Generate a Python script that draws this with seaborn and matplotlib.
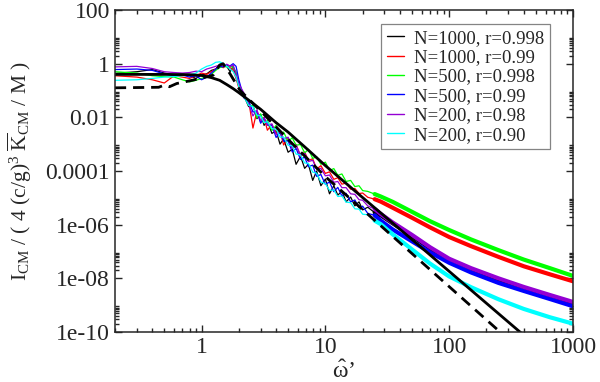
import numpy as np
import pandas as pd
import seaborn as sns
import matplotlib.pyplot as plt
from matplotlib.ticker import FixedLocator, FixedFormatter, NullFormatter

# frequency grid shared by the six simulated spectra
omega = [0.2, 0.3, 0.4, 0.5, 0.6, 0.7, 0.8, 0.9, 1.0, 1.1, 1.2, 1.3, 1.4, 1.5, 1.6, 1.7, 1.8, 1.9, 2.0,
         2.2, 2.4, 2.6, 2.8, 3.0, 3.2, 3.4, 3.7, 4.0, 4.3, 4.6, 5.0, 5.4, 5.8, 6.3, 6.8, 7.3, 7.9, 8.5, 9.2,
         10, 10.8, 11.7, 12.6, 13.6, 14.7, 16, 17.3, 18.7, 20, 22, 25, 28,
         35, 50, 70, 100, 150, 250, 400, 650, 1000]

# log10 of the spectra
black_log = [-0.36, -0.3, -0.22, -0.35, -0.42, -0.38, -0.45, -0.55, -0.42, -0.38, -0.25, -0.2, -0.05, 0.0, -0.1, -0.3, -0.1, -0.5, -0.85,
             -1.2, -1.6, -1.55, -2.05, -1.89, -2.3, -2.13, -2.6, -2.5, -3.0, -2.81, -3.3, -3.19, -3.75, -3.45, -3.9, -3.75, -4.35, -4.0, -4.55,
             -4.3, -4.85, -4.55, -4.9, -4.75, -5.15, -4.97, -5.3, -5.15, -5.45, -5.35, -5.55, -5.65,
             -5.95, -6.42, -6.88, -7.32, -7.67, -8.06, -8.38, -8.66, -8.92]
red_log = [-0.45, -0.5, -0.6, -0.72, -0.45, -0.5, -0.55, -0.45, -0.35, -0.4, -0.3, -0.2, -0.1, -0.15, -0.05, -0.15, -0.25, -0.55, -0.9,
           -1.25, -1.37, -2.4, -1.77, -2.17, -2.0, -2.48, -2.27, -2.6, -2.49, -3.03, -2.77, -3.15, -3.01, -3.46, -3.29, -3.61, -3.54, -3.93, -3.8,
           -4.09, -4.03, -4.31, -4.25, -4.49, -4.45, -4.68, -4.65, -4.84, -4.82, -4.98, -5.05, -5.14,
           -5.37, -5.74, -6.1, -6.46, -6.8, -7.2, -7.55, -7.85, -8.11]
green_log = [-0.3, -0.35, -0.45, -0.48, -0.5, -0.6, -0.68, -0.62, -0.55, -0.5, -0.4, -0.25, -0.15, -0.1, -0.12, -0.08, -0.15, -0.3, -0.8,
             -1.15, -1.55, -1.57, -2.02, -1.87, -2.2, -2.13, -2.49, -2.3, -2.61, -2.55, -2.9, -2.76, -3.04, -3.01, -3.33, -3.19, -3.53, -3.47, -3.75,
             -3.67, -3.98, -3.91, -4.16, -4.11, -4.39, -4.35, -4.58, -4.55, -4.73, -4.76, -4.86, -4.95,
             -5.15, -5.52, -5.87, -6.2, -6.55, -6.95, -7.3, -7.62, -7.91]
blue_log = [-0.22, -0.2, -0.25, -0.38, -0.45, -0.42, -0.5, -0.45, -0.6, -0.5, -0.35, -0.2, -0.1, -0.12, -0.05, -0.08, 0.0, -0.1, -0.6,
            -1.28, -1.39, -1.8, -1.78, -2.22, -2.02, -2.28, -2.29, -2.75, -2.56, -2.89, -2.87, -3.29, -3.16, -3.57, -3.48, -3.84, -3.78, -4.2, -4.13,
            -4.5, -4.41, -4.77, -4.61, -4.93, -4.83, -5.15, -5.08, -5.36, -5.31, -5.58, -5.65, -5.85,
            -6.18, -6.62, -7.03, -7.42, -7.78, -8.17, -8.47, -8.77, -9.04]
purple_log = [-0.12, -0.1, -0.18, -0.3, -0.33, -0.35, -0.33, -0.28, -0.3, -0.2, -0.15, -0.1, -0.05, -0.08, -0.02, -0.1, -0.05, -0.4, -0.75,
              -1.1, -1.5, -1.95, -1.72, -2.12, -2.03, -2.3, -2.24, -2.65, -2.52, -2.8, -2.74, -3.15, -3.04, -3.4, -3.34, -3.65, -3.6, -3.92, -3.9,
              -4.18, -4.15, -4.42, -4.39, -4.62, -4.62, -4.85, -4.87, -5.07, -5.09, -5.3, -5.42, -5.6,
              -5.92, -6.38, -6.84, -7.27, -7.62, -8.0, -8.32, -8.62, -8.88]
cyan_log = [-0.62, -0.6, -0.55, -0.5, -0.48, -0.45, -0.42, -0.35, -0.2, -0.1, -0.05, 0.05, 0.07, 0.0, -0.1, -0.2, -0.3, -0.5, -0.85,
            -1.23, -1.55, -1.6, -1.92, -1.95, -2.2, -2.16, -2.42, -2.44, -2.74, -2.73, -3.04, -3.06, -3.37, -3.4, -3.7, -3.72, -4.04, -4.08, -4.41,
            -4.47, -4.72, -4.71, -4.95, -4.93, -5.16, -5.18, -5.41, -5.42, -5.61, -5.63, -5.85, -5.98,
            -6.36, -6.92, -7.45, -7.93, -8.33, -8.78, -9.14, -9.45, -9.69]

labels = ["N=1000, r=0.998", "N=1000, r=0.99", "N=500, r=0.998",
          "N=500, r=0.99", "N=200, r=0.98", "N=200, r=0.90"]
colors = ["black", "#ff0000", "#00ff00", "#0000ff", "#9400d3", "#00ffff"]

# theory curves
theory_x = [0.2, 0.5, 0.8, 1.0, 1.2, 1.4, 1.6, 1.8, 2.0, 2.5, 3, 4, 5, 7, 10, 20, 50, 100, 200, 400]
theory_log = [-0.40, -0.40, -0.41, -0.44, -0.52, -0.62, -0.78, -0.93, -1.08, -1.42, -1.7, -2.2, -2.55, -3.15,
              -3.8, -4.99, -6.55, -7.74, -8.93, -10.12]
dashed_x = [0.2, 0.45, 0.5, 0.55, 0.63, 0.8, 1.0, 1.24, 1.4, 1.49, 1.7, 2.04, 2.95, 5.46, 10, 20, 100, 300]
dashed_log = [-0.90, -0.88, -0.80, -0.86, -0.74, -0.64, -0.54, -0.43, -0.05, 0.0, -0.38, -0.99, -1.73, -3.0,
              -4.21, -5.44, -8.31, -10.27]

series = [black_log, red_log, green_log, blue_log, purple_log, cyan_log]

sns.set_style("ticks")
plt.rcParams['font.family'] = ['Liberation Serif', 'DejaVu Serif']
plt.rcParams['mathtext.fontset'] = 'custom'
plt.rcParams['mathtext.rm'] = 'Liberation Serif'
plt.rcParams['mathtext.it'] = 'Liberation Serif:italic'

fig = plt.figure(figsize=(6, 3.82), dpi=100)
ax = fig.add_axes([0.1917, 0.1309, 0.7633, 0.8429])
ax.set_xscale('log')
ax.set_yscale('log')

x = np.array(omega)
for vals, c, lab in zip(series, colors, labels):
    y = 10 ** np.array(vals)
    sns.lineplot(x=x, y=y, color=c, lw=0.9, label=lab, ax=ax, estimator=None, sort=False)
    # the noisy high-frequency tail shows as a thick band
    hi = x >= 25
    sns.lineplot(x=x[hi], y=y[hi], color=c, lw=3.0, ax=ax, estimator=None, sort=False, legend=False)

sns.lineplot(x=theory_x, y=10 ** np.array(theory_log), color="black", lw=2.0, ax=ax,
             estimator=None, sort=False, legend=False)
sns.lineplot(x=dashed_x, y=10 ** np.array(dashed_log), color="black", lw=2.0, ax=ax,
             estimator=None, sort=False, legend=False, dashes=False, linestyle=(0, (4, 2.5)))

ax.set_xlim(0.2, 1000)
ax.set_ylim(1e-10, 100)

ax.xaxis.set_major_locator(FixedLocator([1, 10, 100, 1000]))
ax.xaxis.set_major_formatter(FixedFormatter(["1", "10", "100", "1000"]))
xminor = [m * 10.0 ** k for k in range(-1, 3) for m in range(2, 10)]
ax.xaxis.set_minor_locator(FixedLocator(xminor))
ax.xaxis.set_minor_formatter(NullFormatter())

yticks = [1e-10, 1e-8, 1e-6, 1e-4, 1e-2, 1, 100]
ax.yaxis.set_major_locator(FixedLocator(yticks))
ax.yaxis.set_major_formatter(FixedFormatter(["1e-10", "1e-08", "1e-06", "0.0001", "0.01", "1", "100"]))
yminor = [m * 10.0 ** k for k in range(-10, 1, 2) for m in range(2, 10)]
ax.yaxis.set_minor_locator(FixedLocator(yminor))
ax.yaxis.set_minor_formatter(NullFormatter())

ax.tick_params(which='both', direction='in', top=True, right=True, labelsize=17, width=1.0)
ax.tick_params(which='major', length=5)
ax.tick_params(which='minor', length=3)
for s in ax.spines.values():
    s.set_linewidth(1.1)

ax.set_xlabel(r"$\hat{\mathrm{\omega}}$’", fontsize=17, labelpad=2)
ax.set_ylabel(r"I$_{\rm CM}$ / ( 4 (c/g)$^3$ $\overline{\rm K}_{\rm CM}$ / M )", fontsize=15.5, labelpad=8)

handles, labs = ax.get_legend_handles_labels()
leg = ax.legend(handles[:6], labs[:6], loc='upper left', bbox_to_anchor=(0.581, 0.9565),
                fontsize=13.5, frameon=True, fancybox=False, edgecolor='#666666',
                handlelength=0.9, handletextpad=0.55, labelspacing=0.12, borderpad=0.3,
                borderaxespad=0.0)
leg.get_frame().set_linewidth(0.9)
for h in leg.get_lines():
    h.set_linewidth(1.0)

fig.savefig("out.png", dpi=100)
